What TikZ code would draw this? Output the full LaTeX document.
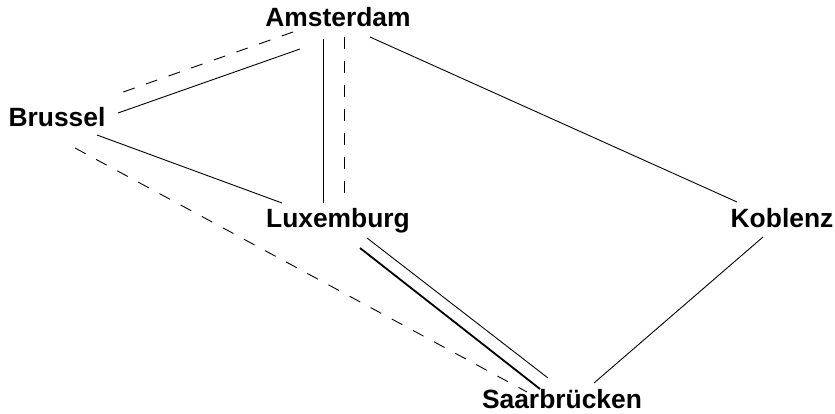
\documentclass[tikz,border=0pt]{standalone}
\usepackage{fontspec}
\setmainfont{Liberation Sans}
\usetikzlibrary{calc}

\tikzset{
  city/.style={anchor=base, inner sep=0pt, font=\bfseries\fontsize{26.4}{31}\selectfont},
  road/.style={line width=0.9pt},
  mainroad/.style={line width=1.8pt},
  rail/.style={line width=0.9pt, dash pattern=on 12pt off 12pt}
}

\begin{document}
\begin{tikzpicture}[x=1pt, y=-1pt]
  \useasboundingbox (0,0) rectangle (835,414);

  % cities (placed at their baselines)
  \node[city] (ams)  at (338,27)  {Amsterdam};
  \node[city] (bru)  at (57,127)  {Brussel};
  \node[city] (lux)  at (338,228) {Luxemburg};
  \node[city] (kob)  at (782,228) {Koblenz};
  \node[city] (saar) at (562,408) {Saarbrücken};

  % Amsterdam -- Brussel
  \draw[road] ($(ams.base)+(-38,22)$) -- ($(bru.base)+(61,-14)$);
  \draw[rail] ($(ams.base)+(-45,5)$)  -- ($(bru.base)+(55,-31)$);

  % Amsterdam -- Luxemburg
  \draw[road] ($(ams.base)+(-15,12)$) -- ($(lux.base)+(-15,-25)$);
  \draw[rail] ($(ams.base)+(6,10)$)   -- ($(lux.base)+(6,-26)$);

  % Amsterdam -- Koblenz
  \draw[road] ($(ams.base)+(32,10)$) -- ($(kob.base)+(-45,-26)$);

  % Brussel -- Luxemburg
  \draw[road] ($(bru.base)+(40,8)$) -- ($(lux.base)+(-56,-25)$);

  % Brussel -- Saarbrücken
  \draw[rail] ($(bru.base)+(18,21)$) -- ($(saar.base)+(-35,-16)$);

  % Luxemburg -- Saarbrücken
  \draw[mainroad] ($(lux.base)+(22,20)$) -- ($(saar.base)+(-22,-19)$);
  \draw[road]     ($(lux.base)+(29,10)$) -- ($(saar.base)+(-14,-30)$);

  % Koblenz -- Saarbrücken
  \draw[road] ($(kob.base)+(-19,9)$) -- ($(saar.base)+(32,-25)$);
\end{tikzpicture}
\end{document}
